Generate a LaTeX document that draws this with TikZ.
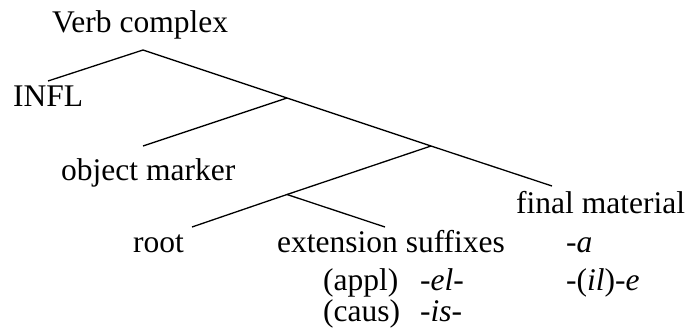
\documentclass[tikz,border=0pt]{standalone}
\usepackage{fontspec}
\setmainfont{Liberation Serif}
\begin{document}
\begin{tikzpicture}[x=1pt,y=-1pt,
  lbl/.style={inner sep=0pt,anchor=base west,font=\fontsize{31.5}{36}\selectfont},
  branch/.style={line width=1.3pt,line cap=butt}]
\useasboundingbox (0,0) rectangle (687,335);
% text
\node[lbl] (vc) at (52,32) {Verb complex};
\node[lbl] (infl) at (13,106) {INFL};
\node[lbl] (om) at (61,180) {object marker};
\node[lbl] (fm) at (516,213) {final material};
\node[lbl] (root) at (133,252) {root};
\node[lbl] (ext) at (277,252) {extension suffixes};
\node[lbl] (fa) at (566,252) {\textit{-a}};
\node[lbl] (appl) at (323,290) {(appl)};
\node[lbl] (el) at (420,290) {\textit{-el-}};
\node[lbl] (ile) at (566,290) {\textit{-}(\textit{il})\textit{-e}};
\node[lbl] (caus) at (323,321) {(caus)};
\node[lbl] (is) at (420,321) {\textit{-is-}};
% tree points
\coordinate (A) at (143,50);
\coordinate (B) at (287,98);
\coordinate (C) at (431,146);
\coordinate (D) at (287,194.5);
\coordinate (eInfl) at (48,81);
\coordinate (eOm) at (143,146);
\coordinate (eFm) at (552,186);
\coordinate (eRoot) at (192,227);
\coordinate (eExt) at (385,227);
\draw[branch] (eInfl) -- (A) -- (B) -- (C) -- (eFm);
\draw[branch] (B) -- (eOm);
\draw[branch] (C) -- (D) -- (eRoot);
\draw[branch] (D) -- (eExt);
\end{tikzpicture}
\end{document}
